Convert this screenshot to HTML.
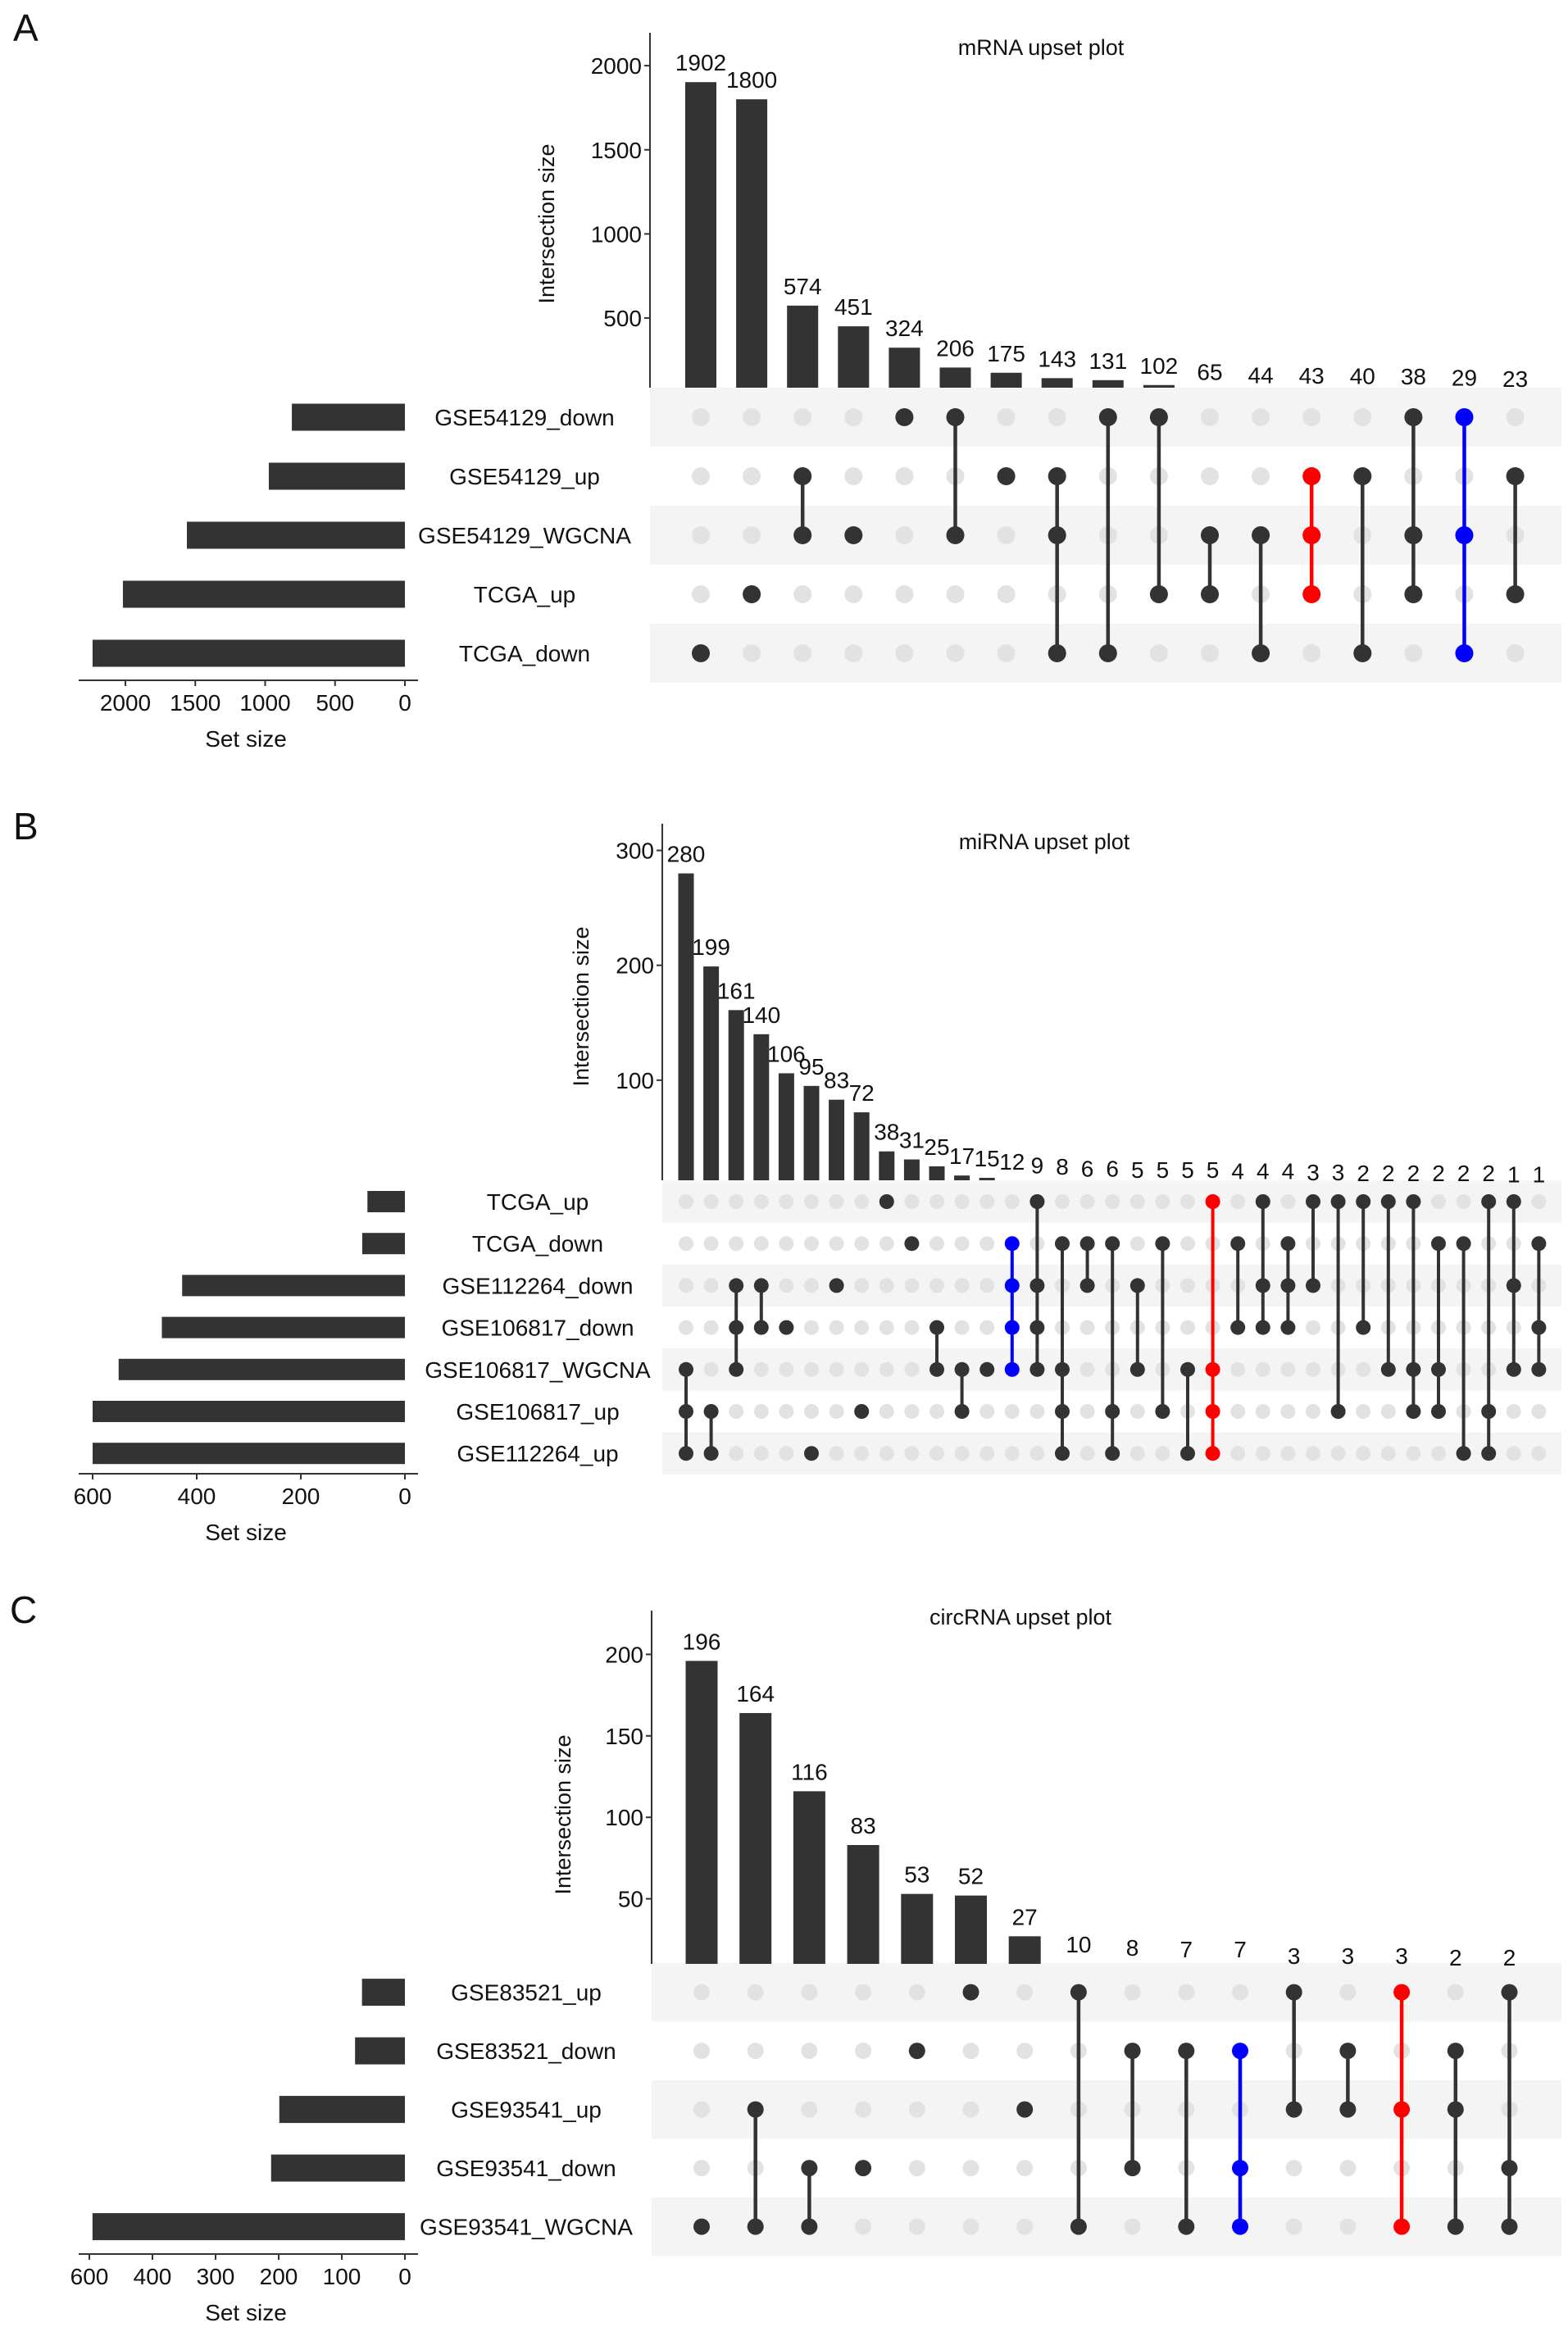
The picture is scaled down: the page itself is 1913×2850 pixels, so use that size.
<!DOCTYPE html>
<html><head><meta charset="utf-8"><style>
html,body{margin:0;padding:0;background:#fff}
svg{display:block}
text{font-family:"Liberation Sans",Arial,sans-serif;fill:#111}
</style></head><body>
<svg id="svg" width="1913" height="2850" viewBox="0 0 1913 2850" xmlns="http://www.w3.org/2000/svg"></svg>
<script>
// ---- Panel A data (mRNA)
const aSets = ["GSE54129_down","GSE54129_up","GSE54129_WGCNA","TCGA_up","TCGA_down"];
const aSetSizes = [809,974,1560,2018,2235];
const aValues = [1902,1800,574,451,324,206,175,143,131,102,65,44,43,40,38,29,23];
const aMembers = [[4],[3],[1,2],[2],[0],[0,2],[1],[1,2,4],[0,4],[0,3],[2,3],[2,4],[1,2,3],[1,4],[0,2,3],[0,2,4],[1,3]];
const aColors = {12:"#ff0000",15:"#0000ff"};
const aYTicks = [500,1000,1500,2000];
const aSetTicks = [2000,1500,1000,500,0];
const aSetTickLabels = ["2000","1500","1000","500","0"];
// ---- Panel B data (miRNA)
const bSets = ["TCGA_up","TCGA_down","GSE112264_down","GSE106817_down","GSE106817_WGCNA","GSE106817_up","GSE112264_up"];
const bSetSizes = [72,82,428,467,550,600,600];
const bValues = [280,199,161,140,106,95,83,72,38,31,25,17,15,12,9,8,6,6,5,5,5,5,4,4,4,3,3,2,2,2,2,2,2,1,1];
const bMembers = [[4,5,6],[5,6],[2,3,4],[2,3],[3],[6],[2],[5],[0],[1],[3,4],[4,5],[4],[1,2,3,4],[0,2,3,4],[1,4,5,6],[1,2],[1,5,6],[2,4],[1,5],[4,6],[0,4,5,6],[1,3],[0,2,3],[1,2,3],[0,2],[0,5],[0,3],[0,4],[0,4,5],[1,4,5],[1,6],[0,5,6],[0,2,4],[1,3,4]];
const bColors = {13:"#0000ff",21:"#ff0000"};
const bYTicks = [100,200,300];
const bSetTicks = [600,400,200,0];
const bSetTickLabels = ["600","400","200","0"];
// ---- Panel C data (circRNA)
const cSets = ["GSE83521_up","GSE83521_down","GSE93541_up","GSE93541_down","GSE93541_WGCNA"];
const cSetSizes = [68,79,199,212,495];
const cValues = [196,164,116,83,53,52,27,10,8,7,7,3,3,3,2,2];
const cMembers = [[4],[2,4],[3,4],[3],[1],[0],[2],[0,4],[1,3],[1,4],[1,3,4],[0,2],[1,2],[0,2,4],[1,2,4],[0,3,4]];
const cColors = {10:"#0000ff",13:"#ff0000"};
const cYTicks = [50,100,150,200];
const cSetTicks = [500,400,300,200,100,0];
const cSetTickLabels = ["600","400","300","200","100","0"];

const svg = document.getElementById('svg');
const NS = "http://www.w3.org/2000/svg";
function mk(tag, attrs, parent){
  const e = document.createElementNS(NS, tag);
  for (const k in attrs) e.setAttribute(k, attrs[k]);
  (parent||svg).appendChild(e);
  return e;
}
function txt(s, x, y, size, anchor, parent){
  const t = mk('text', {x:x, y:y, 'font-size':size, 'text-anchor':anchor||'middle'}, parent);
  t.textContent = s;
  return t;
}

function panel(P){
  const g = mk('g', {});
  
  
  const yS = v => P.y0 - v * P.k;
  const xS = i => P.x0 + i * P.dx;
  const rowY = r => P.rowY0 + r * P.dy;
  const setX = v => 494 - v * P.setK;
  const L = txt(P.letter, P.letterX, P.letterY, 46, 'start', g);
  
  
  const T = txt(P.title, P.titleX, P.titleY, 27, 'middle', g);
  
  
  const nR = P.sets.length;
  for (let r = 0; r < nR; r++){
    if (r % 2 === 0){
      const b = mk('rect', {x:P.axisX, y:rowY(r)-P.dy/2, width:1905-P.axisX, height:P.dy, fill:'#f4f4f4'}, g);
      
      
    }
  }
  const ax = mk('line', {x1:P.axisX, x2:P.axisX, y1:P.axisTop, y2:P.clipY, stroke:'#333', 'stroke-width':2}, g);
  
  
  P.yTicks.forEach(v => {
    mk('line', {x1:P.axisX-7, x2:P.axisX, y1:yS(v), y2:yS(v), stroke:'#333', 'stroke-width':2}, g);
    const t = txt(String(v), P.axisX-10, yS(v)+10, 28, 'end', g);
    
    
  });
  const yt = txt('Intersection size', 0, 0, 27, 'middle', g);
  yt.setAttribute('transform', `translate(${P.yTitleX},${P.yTitleY}) rotate(-90)`);
  
  
  P.values.forEach((v, i) => {
    const top = yS(v);
    if (top < P.clipY){
      const b = mk('rect', {x:xS(i)-P.bw/2, y:top, width:P.bw, height:P.clipY-top, fill:'#333'}, g);
      
      
    }
    const t = txt(String(v), xS(i), top-14, 28, 'middle', g);
    
    
  });
  P.members.forEach((m, i) => {
    const col = P.colors[i] || '#333';
    const mn = Math.min(...m), mx = Math.max(...m);
    for (let r = 0; r < nR; r++){
      if (m.indexOf(r) < 0){
        const d = mk('circle', {cx:xS(i), cy:rowY(r), r:P.r, fill:'#e2e2e2'}, g);
        
        
      }
    }
    if (m.length > 1){
      const l = mk('line', {x1:xS(i), x2:xS(i), y1:rowY(mn), y2:rowY(mx), stroke:col, 'stroke-width':P.lw}, g);
      
      
    }
    m.forEach(r => {
      const d = mk('circle', {cx:xS(i), cy:rowY(r), r:P.r, fill:col}, g);
      
      
    });
  });
  P.sets.forEach((s, r) => {
    const t = txt(s, P.labelX, rowY(r)+10, 28, 'middle', g);
    
    
    const v = P.setSizes[r];
    const b = mk('rect', {x:setX(v), y:rowY(r)-P.setH/2, width:494-setX(v), height:P.setH, fill:'#333'}, g);
    
    
  });
  const sa = mk('line', {x1:96, x2:510, y1:P.setAxisY, y2:P.setAxisY, stroke:'#333', 'stroke-width':2}, g);
  
  
  P.setTicks.forEach((v, j) => {
    mk('line', {x1:setX(v), x2:setX(v), y1:P.setAxisY, y2:P.setAxisY+7, stroke:'#333', 'stroke-width':2}, g);
    const t = txt(P.setTickLabels[j], setX(v), P.setAxisY+37, 28, 'middle', g);
    
    
  });
  const st = txt('Set size', 300, P.setAxisY+81, 28, 'middle', g);
  
  
}

panel({name:'panel-a-mrna', letter:'A', letterX:16, letterY:50, title:'mRNA upset plot', titleX:1270, titleY:67,
  sets:aSets, setSizes:aSetSizes, values:aValues, members:aMembers, colors:aColors, yTicks:aYTicks,
  setTicks:aSetTicks, setTickLabels:aSetTickLabels,
  axisX:793, axisTop:40, y0:490.7, k:0.2053, clipY:473, x0:855, dx:62.1, bw:38,
  rowY0:509, dy:72, r:11, lw:4.5, setK:0.1705, setH:33, setAxisY:830, labelX:640, yTitleX:676, yTitleY:273});

panel({name:'panel-b-mirna', letter:'B', letterX:16, letterY:1024, title:'miRNA upset plot', titleX:1274, titleY:1036,
  sets:bSets, setSizes:bSetSizes, values:bValues, members:bMembers, colors:bColors, yTicks:bYTicks,
  setTicks:bSetTicks, setTickLabels:bSetTickLabels,
  axisX:808, axisTop:1005, y0:1458, k:1.4015, clipY:1440, x0:837, dx:30.6, bw:19,
  rowY0:1466, dy:51.2, r:9, lw:4, setK:0.635, setH:26, setAxisY:1798, labelX:656, yTitleX:718, yTitleY:1228});

panel({name:'panel-c-circrna', letter:'C', letterX:12, letterY:1980, title:'circRNA upset plot', titleX:1245, titleY:1982,
  sets:cSets, setSizes:cSetSizes, values:cValues, members:cMembers, colors:cColors, yTicks:cYTicks,
  setTicks:cSetTicks, setTickLabels:cSetTickLabels,
  axisX:795, axisTop:1965, y0:2416, k:1.988, clipY:2396, x0:856, dx:65.7, bw:39,
  rowY0:2430.6, dy:71.5, r:10, lw:4.5, setK:0.77, setH:33, setAxisY:2750, labelX:642, yTitleX:696, yTitleY:2214});
</script>
</body></html>
